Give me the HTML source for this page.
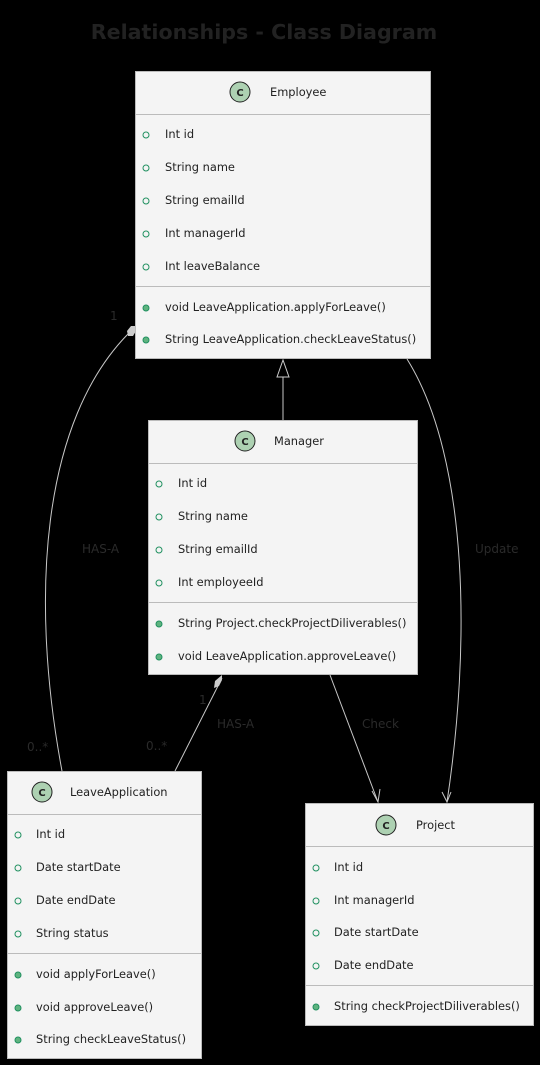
<!DOCTYPE html>
<html><head><meta charset="utf-8"><style>
html,body{margin:0;padding:0;background:#000;}
svg{display:block;}
text{font-family:"DejaVu Sans","Liberation Sans",sans-serif;}
.t{font-size:11.4px;fill:#222;}
.h{font-size:11.4px;fill:#222;}
.l{font-size:12px;fill:#2a2a2a;}
.box{fill:#f4f4f4;stroke:#bbb;stroke-width:1;}
.sep{stroke:#bbb;stroke-width:1;}
.ln{fill:none;stroke:#c8c8c8;stroke-width:1;}
.ao{fill:none;stroke:#209060;stroke-width:1;}
.mf{fill:#5fb37f;stroke:#209060;stroke-width:1;}
.ci{fill:#add1b2;stroke:#222;stroke-width:1;}
.cc{font-size:10px;font-weight:bold;fill:#222;}
</style></head><body>
<svg width="540" height="1065" viewBox="0 0 540 1065" xmlns="http://www.w3.org/2000/svg">
<text x="264" y="39" text-anchor="middle" style="font-size:20.6px;font-weight:bold;fill:#222">Relationships - Class Diagram</text>

<!-- connectors -->
<path class="ln" d="M131,331 C40,420 30,600 62,771"/>
<polygon points="136,326 131,326 127,331 128,336 133,336 136,331" fill="#ccc"/>
<path class="ln" d="M222,678 L175,771"/>
<polygon points="222,675 215,681 214,688 219,686 222,680" fill="#ccc"/>
<path class="ln" d="M283,420 L283,377"/>
<polygon points="283,360 277,377 289,377" fill="#000" stroke="#ccc"/>
<path class="ln" d="M330,675 L378,802"/>
<path class="ln" d="M372,791 L378,802 L380,789" />
<path class="ln" d="M407,359 C470,460 470,650 447,802"/>
<path class="ln" d="M442,792 L447,802 L451,792"/>
<text class="l" x="110" y="320">1</text>
<text class="l" x="82" y="553">HAS-A</text>
<text class="l" x="27" y="751">0..*</text>
<text class="l" x="199" y="704">1</text>
<text class="l" x="217" y="728">HAS-A</text>
<text class="l" x="146" y="750">0..*</text>
<text class="l" x="362" y="728">Check</text>
<text class="l" x="475" y="553">Update</text>

<!-- Employee -->
<rect class="box" x="135.5" y="71.5" width="295" height="287"/>
<line class="sep" x1="135" y1="114.5" x2="431" y2="114.5"/>
<line class="sep" x1="135" y1="286.5" x2="431" y2="286.5"/>
<circle class="ci" cx="240" cy="92" r="10"/><text class="cc" x="240" y="96" text-anchor="middle">C</text>
<text class="h" x="270" y="96">Employee</text>
<g class="t">
<circle class="ao" cx="146" cy="135" r="3"/><text x="165" y="138">Int id</text>
<circle class="ao" cx="146" cy="168" r="3"/><text x="165" y="171">String name</text>
<circle class="ao" cx="146" cy="201" r="3"/><text x="165" y="204">String emailId</text>
<circle class="ao" cx="146" cy="234" r="3"/><text x="165" y="237">Int managerId</text>
<circle class="ao" cx="146" cy="267" r="3"/><text x="165" y="270">Int leaveBalance</text>
<circle class="mf" cx="146" cy="308" r="3"/><text x="165" y="311">void LeaveApplication.applyForLeave()</text>
<circle class="mf" cx="146" cy="340" r="3"/><text x="165" y="343">String LeaveApplication.checkLeaveStatus()</text>
</g>

<!-- Manager -->
<rect class="box" x="148.5" y="420.5" width="269" height="254"/>
<line class="sep" x1="148" y1="463.5" x2="418" y2="463.5"/>
<line class="sep" x1="148" y1="602.5" x2="418" y2="602.5"/>
<circle class="ci" cx="245" cy="441" r="10"/><text class="cc" x="245" y="445" text-anchor="middle">C</text>
<text class="h" x="274" y="445">Manager</text>
<g class="t">
<circle class="ao" cx="159" cy="484" r="3"/><text x="178" y="487">Int id</text>
<circle class="ao" cx="159" cy="517" r="3"/><text x="178" y="520">String name</text>
<circle class="ao" cx="159" cy="550" r="3"/><text x="178" y="553">String emailId</text>
<circle class="ao" cx="159" cy="583" r="3"/><text x="178" y="586">Int employeeId</text>
<circle class="mf" cx="159" cy="624" r="3"/><text x="178" y="627">String Project.checkProjectDiliverables()</text>
<circle class="mf" cx="159" cy="657" r="3"/><text x="178" y="660">void LeaveApplication.approveLeave()</text>
</g>

<!-- LeaveApplication -->
<rect class="box" x="7.5" y="771.5" width="194" height="287"/>
<line class="sep" x1="7" y1="814.5" x2="202" y2="814.5"/>
<line class="sep" x1="7" y1="953.5" x2="202" y2="953.5"/>
<circle class="ci" cx="42" cy="792" r="10"/><text class="cc" x="42" y="796" text-anchor="middle">C</text>
<text class="h" x="70" y="796">LeaveApplication</text>
<g class="t">
<circle class="ao" cx="18" cy="835" r="3"/><text x="36" y="838">Int id</text>
<circle class="ao" cx="18" cy="868" r="3"/><text x="36" y="871">Date startDate</text>
<circle class="ao" cx="18" cy="901" r="3"/><text x="36" y="904">Date endDate</text>
<circle class="ao" cx="18" cy="934" r="3"/><text x="36" y="937">String status</text>
<circle class="mf" cx="18" cy="975" r="3"/><text x="36" y="978">void applyForLeave()</text>
<circle class="mf" cx="18" cy="1008" r="3"/><text x="36" y="1011">void approveLeave()</text>
<circle class="mf" cx="18" cy="1040" r="3"/><text x="36" y="1043">String checkLeaveStatus()</text>
</g>

<!-- Project -->
<rect class="box" x="305.5" y="803.5" width="228" height="222"/>
<line class="sep" x1="305" y1="846.5" x2="534" y2="846.5"/>
<line class="sep" x1="305" y1="985.5" x2="534" y2="985.5"/>
<circle class="ci" cx="386" cy="825" r="10"/><text class="cc" x="386" y="829" text-anchor="middle">C</text>
<text class="h" x="416" y="829">Project</text>
<g class="t">
<circle class="ao" cx="316" cy="868" r="3"/><text x="334" y="871">Int id</text>
<circle class="ao" cx="316" cy="901" r="3"/><text x="334" y="904">Int managerId</text>
<circle class="ao" cx="316" cy="933" r="3"/><text x="334" y="936">Date startDate</text>
<circle class="ao" cx="316" cy="966" r="3"/><text x="334" y="969">Date endDate</text>
<circle class="mf" cx="316" cy="1007" r="3"/><text x="334" y="1010">String checkProjectDiliverables()</text>
</g>
</svg>
</body></html>
